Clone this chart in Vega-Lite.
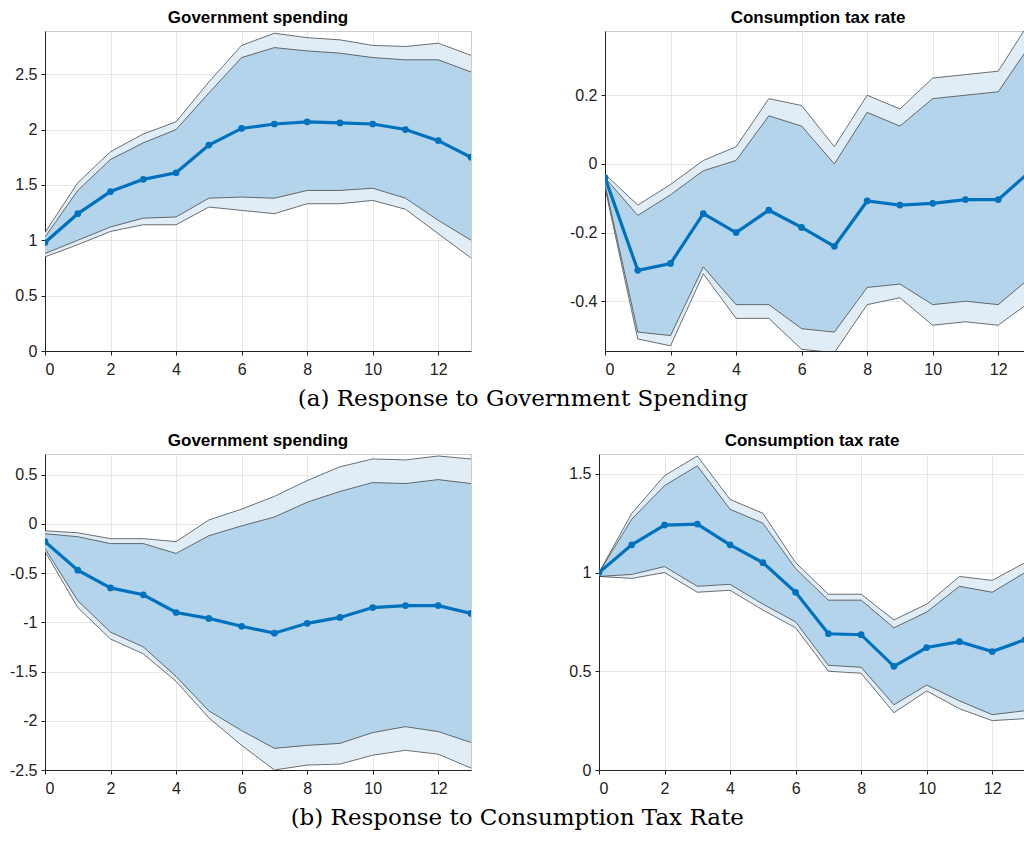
{
  "$schema": "https://vega.github.io/schema/vega-lite/v6.json",
  "padding": {"left": 8, "top": 8, "right": 0, "bottom": 0},
  "background": "white",
  "datasets": {
    "irf": [
      {"panel": "a1", "h": 0, "mean": 0.98, "lo68": 0.88, "hi68": 1.03, "lo90": 0.85, "hi90": 1.07},
      {"panel": "a1", "h": 1, "mean": 1.24, "lo68": 1.0, "hi68": 1.45, "lo90": 0.96, "hi90": 1.52},
      {"panel": "a1", "h": 2, "mean": 1.44, "lo68": 1.12, "hi68": 1.73, "lo90": 1.08, "hi90": 1.8},
      {"panel": "a1", "h": 3, "mean": 1.55, "lo68": 1.2, "hi68": 1.88, "lo90": 1.14, "hi90": 1.96},
      {"panel": "a1", "h": 4, "mean": 1.61, "lo68": 1.21, "hi68": 2.0, "lo90": 1.14, "hi90": 2.07},
      {"panel": "a1", "h": 5, "mean": 1.86, "lo68": 1.38, "hi68": 2.33, "lo90": 1.3, "hi90": 2.43},
      {"panel": "a1", "h": 6, "mean": 2.01, "lo68": 1.39, "hi68": 2.65, "lo90": 1.27, "hi90": 2.76},
      {"panel": "a1", "h": 7, "mean": 2.05, "lo68": 1.38, "hi68": 2.74, "lo90": 1.24, "hi90": 2.87},
      {"panel": "a1", "h": 8, "mean": 2.07, "lo68": 1.45, "hi68": 2.71, "lo90": 1.33, "hi90": 2.83},
      {"panel": "a1", "h": 9, "mean": 2.06, "lo68": 1.45, "hi68": 2.69, "lo90": 1.33, "hi90": 2.81},
      {"panel": "a1", "h": 10, "mean": 2.05, "lo68": 1.47, "hi68": 2.65, "lo90": 1.36, "hi90": 2.76},
      {"panel": "a1", "h": 11, "mean": 2.0, "lo68": 1.38, "hi68": 2.63, "lo90": 1.28, "hi90": 2.75},
      {"panel": "a1", "h": 12, "mean": 1.9, "lo68": 1.18, "hi68": 2.63, "lo90": 1.06, "hi90": 2.78},
      {"panel": "a1", "h": 13, "mean": 1.75, "lo68": 1.0, "hi68": 2.52, "lo90": 0.84, "hi90": 2.67},

      {"panel": "a2", "h": 0, "mean": -0.04, "lo68": -0.06, "hi68": -0.04, "lo90": -0.07, "hi90": -0.03},
      {"panel": "a2", "h": 1, "mean": -0.31, "lo68": -0.49, "hi68": -0.15, "lo90": -0.51, "hi90": -0.12},
      {"panel": "a2", "h": 2, "mean": -0.29, "lo68": -0.5, "hi68": -0.09, "lo90": -0.53, "hi90": -0.06},
      {"panel": "a2", "h": 3, "mean": -0.145, "lo68": -0.3, "hi68": -0.02, "lo90": -0.32, "hi90": 0.01},
      {"panel": "a2", "h": 4, "mean": -0.2, "lo68": -0.41, "hi68": 0.01, "lo90": -0.45, "hi90": 0.05},
      {"panel": "a2", "h": 5, "mean": -0.135, "lo68": -0.41, "hi68": 0.14, "lo90": -0.45, "hi90": 0.19},
      {"panel": "a2", "h": 6, "mean": -0.185, "lo68": -0.48, "hi68": 0.11, "lo90": -0.54, "hi90": 0.17},
      {"panel": "a2", "h": 7, "mean": -0.24, "lo68": -0.49, "hi68": 0.0, "lo90": -0.55, "hi90": 0.05},
      {"panel": "a2", "h": 8, "mean": -0.108, "lo68": -0.36, "hi68": 0.15, "lo90": -0.41, "hi90": 0.2},
      {"panel": "a2", "h": 9, "mean": -0.12, "lo68": -0.35, "hi68": 0.11, "lo90": -0.39, "hi90": 0.16},
      {"panel": "a2", "h": 10, "mean": -0.115, "lo68": -0.41, "hi68": 0.19, "lo90": -0.47, "hi90": 0.25},
      {"panel": "a2", "h": 11, "mean": -0.104, "lo68": -0.4, "hi68": 0.2, "lo90": -0.46, "hi90": 0.26},
      {"panel": "a2", "h": 12, "mean": -0.104, "lo68": -0.41, "hi68": 0.21, "lo90": -0.47, "hi90": 0.27},
      {"panel": "a2", "h": 13, "mean": -0.02, "lo68": -0.33, "hi68": 0.35, "lo90": -0.4, "hi90": 0.42},

      {"panel": "b1", "h": 0, "mean": -0.18, "lo68": -0.25, "hi68": -0.1, "lo90": -0.28, "hi90": -0.07},
      {"panel": "b1", "h": 1, "mean": -0.47, "lo68": -0.78, "hi68": -0.13, "lo90": -0.85, "hi90": -0.09},
      {"panel": "b1", "h": 2, "mean": -0.65, "lo68": -1.1, "hi68": -0.2, "lo90": -1.17, "hi90": -0.15},
      {"panel": "b1", "h": 3, "mean": -0.72, "lo68": -1.25, "hi68": -0.2, "lo90": -1.32, "hi90": -0.15},
      {"panel": "b1", "h": 4, "mean": -0.9, "lo68": -1.55, "hi68": -0.3, "lo90": -1.6, "hi90": -0.18},
      {"panel": "b1", "h": 5, "mean": -0.96, "lo68": -1.9, "hi68": -0.12, "lo90": -1.97, "hi90": 0.04},
      {"panel": "b1", "h": 6, "mean": -1.04, "lo68": -2.1, "hi68": -0.02, "lo90": -2.25, "hi90": 0.15},
      {"panel": "b1", "h": 7, "mean": -1.11, "lo68": -2.28, "hi68": 0.07, "lo90": -2.5, "hi90": 0.28},
      {"panel": "b1", "h": 8, "mean": -1.01, "lo68": -2.25, "hi68": 0.22, "lo90": -2.45, "hi90": 0.44},
      {"panel": "b1", "h": 9, "mean": -0.95, "lo68": -2.23, "hi68": 0.33, "lo90": -2.44, "hi90": 0.58},
      {"panel": "b1", "h": 10, "mean": -0.85, "lo68": -2.12, "hi68": 0.42, "lo90": -2.35, "hi90": 0.66},
      {"panel": "b1", "h": 11, "mean": -0.83, "lo68": -2.06, "hi68": 0.41, "lo90": -2.3, "hi90": 0.65},
      {"panel": "b1", "h": 12, "mean": -0.83, "lo68": -2.11, "hi68": 0.45, "lo90": -2.34, "hi90": 0.69},
      {"panel": "b1", "h": 13, "mean": -0.91, "lo68": -2.22, "hi68": 0.41, "lo90": -2.48, "hi90": 0.66},

      {"panel": "b2", "h": 0, "mean": 1.0, "lo68": 0.98, "hi68": 1.0, "lo90": 0.98, "hi90": 1.0},
      {"panel": "b2", "h": 1, "mean": 1.14, "lo68": 0.99, "hi68": 1.27, "lo90": 0.97, "hi90": 1.3},
      {"panel": "b2", "h": 2, "mean": 1.24, "lo68": 1.03, "hi68": 1.44, "lo90": 1.0, "hi90": 1.49},
      {"panel": "b2", "h": 3, "mean": 1.245, "lo68": 0.93, "hi68": 1.54, "lo90": 0.9, "hi90": 1.59},
      {"panel": "b2", "h": 4, "mean": 1.14, "lo68": 0.94, "hi68": 1.32, "lo90": 0.91, "hi90": 1.37},
      {"panel": "b2", "h": 5, "mean": 1.05, "lo68": 0.84, "hi68": 1.25, "lo90": 0.81, "hi90": 1.3},
      {"panel": "b2", "h": 6, "mean": 0.9, "lo68": 0.75, "hi68": 1.02, "lo90": 0.72, "hi90": 1.05},
      {"panel": "b2", "h": 7, "mean": 0.69, "lo68": 0.53, "hi68": 0.86, "lo90": 0.5, "hi90": 0.89},
      {"panel": "b2", "h": 8, "mean": 0.685, "lo68": 0.52, "hi68": 0.86, "lo90": 0.49, "hi90": 0.89},
      {"panel": "b2", "h": 9, "mean": 0.525, "lo68": 0.33, "hi68": 0.72, "lo90": 0.29, "hi90": 0.76},
      {"panel": "b2", "h": 10, "mean": 0.62, "lo68": 0.43, "hi68": 0.8, "lo90": 0.4, "hi90": 0.84},
      {"panel": "b2", "h": 11, "mean": 0.65, "lo68": 0.35, "hi68": 0.93, "lo90": 0.31, "hi90": 0.98},
      {"panel": "b2", "h": 12, "mean": 0.6, "lo68": 0.28, "hi68": 0.9, "lo90": 0.25, "hi90": 0.96},
      {"panel": "b2", "h": 13, "mean": 0.66, "lo68": 0.3, "hi68": 1.0, "lo90": 0.26, "hi90": 1.05}
    ]
  },
  "vconcat": [
    {
      "title": {"text": "(a) Response to Government Spending", "orient": "bottom", "anchor": "middle", "font": "DejaVu Serif", "fontSize": 23, "fontWeight": "normal", "offset": 10},
      "hconcat": [
        {
          "title": "Government spending",
          "width": 426, "height": 320,
          "data": {"name": "irf"},
          "transform": [{"filter": "datum.panel === 'a1'"}],
          "encoding": {
            "x": {"field": "h", "type": "quantitative", "scale": {"domain": [0, 13], "nice": false}, "axis": {"values": [0, 2, 4, 6, 8, 10, 12]}, "title": null}
          },
          "layer": [
            {"mark": {"type": "area", "color": "#e1edf6", "opacity": 1, "clip": true}, "encoding": {"y": {"field": "lo90", "type": "quantitative", "scale": {"domain": [0, 2.89], "nice": false}, "axis": {"values": [0, 0.5, 1, 1.5, 2, 2.5]}, "title": null}, "y2": {"field": "hi90"}}},
            {"mark": {"type": "area", "color": "#b3d4ea", "opacity": 1, "clip": true}, "encoding": {"y": {"field": "lo68", "type": "quantitative"}, "y2": {"field": "hi68"}}},
            {"transform": [{"fold": ["lo90", "hi90", "lo68", "hi68"], "as": ["band", "val"]}], "mark": {"type": "line", "color": "#333", "strokeWidth": 0.7, "clip": true}, "encoding": {"y": {"field": "val", "type": "quantitative"}, "detail": {"field": "band"}}},
            {"mark": {"type": "rule", "color": "black", "strokeWidth": 3.5, "clip": true}, "encoding": {"y": {"datum": 0}}},
            {"mark": {"type": "line", "color": "#0072bd", "strokeWidth": 3.2, "point": {"filled": true, "size": 45, "color": "#0072bd"}, "clip": true}, "encoding": {"y": {"field": "mean", "type": "quantitative"}}}
          ]
        },
        {
          "title": "Consumption tax rate",
          "width": 426, "height": 320,
          "data": {"name": "irf"},
          "transform": [{"filter": "datum.panel === 'a2'"}],
          "encoding": {
            "x": {"field": "h", "type": "quantitative", "scale": {"domain": [0, 13], "nice": false}, "axis": {"values": [0, 2, 4, 6, 8, 10, 12]}, "title": null}
          },
          "layer": [
            {"mark": {"type": "area", "color": "#e1edf6", "opacity": 1, "clip": true}, "encoding": {"y": {"field": "lo90", "type": "quantitative", "scale": {"domain": [-0.545, 0.387], "nice": false}, "axis": {"values": [-0.4, -0.2, 0, 0.2]}, "title": null}, "y2": {"field": "hi90"}}},
            {"mark": {"type": "area", "color": "#b3d4ea", "opacity": 1, "clip": true}, "encoding": {"y": {"field": "lo68", "type": "quantitative"}, "y2": {"field": "hi68"}}},
            {"transform": [{"fold": ["lo90", "hi90", "lo68", "hi68"], "as": ["band", "val"]}], "mark": {"type": "line", "color": "#333", "strokeWidth": 0.7, "clip": true}, "encoding": {"y": {"field": "val", "type": "quantitative"}, "detail": {"field": "band"}}},
            {"mark": {"type": "rule", "color": "black", "strokeWidth": 3.5, "clip": true}, "encoding": {"y": {"datum": 0}}},
            {"mark": {"type": "line", "color": "#0072bd", "strokeWidth": 3.2, "point": {"filled": true, "size": 45, "color": "#0072bd"}, "clip": true}, "encoding": {"y": {"field": "mean", "type": "quantitative"}}}
          ]
        }
      ],
      "spacing": 96
    },
    {
      "title": {"text": "(b) Response to Consumption Tax Rate", "orient": "bottom", "anchor": "middle", "font": "DejaVu Serif", "fontSize": 23, "fontWeight": "normal", "offset": 10},
      "hconcat": [
        {
          "title": "Government spending",
          "width": 426, "height": 316,
          "data": {"name": "irf"},
          "transform": [{"filter": "datum.panel === 'b1'"}],
          "encoding": {
            "x": {"field": "h", "type": "quantitative", "scale": {"domain": [0, 13], "nice": false}, "axis": {"values": [0, 2, 4, 6, 8, 10, 12]}, "title": null}
          },
          "layer": [
            {"mark": {"type": "area", "color": "#e1edf6", "opacity": 1, "clip": true}, "encoding": {"y": {"field": "lo90", "type": "quantitative", "scale": {"domain": [-2.5, 0.71], "nice": false}, "axis": {"values": [-2.5, -2, -1.5, -1, -0.5, 0, 0.5]}, "title": null}, "y2": {"field": "hi90"}}},
            {"mark": {"type": "area", "color": "#b3d4ea", "opacity": 1, "clip": true}, "encoding": {"y": {"field": "lo68", "type": "quantitative"}, "y2": {"field": "hi68"}}},
            {"transform": [{"fold": ["lo90", "hi90", "lo68", "hi68"], "as": ["band", "val"]}], "mark": {"type": "line", "color": "#333", "strokeWidth": 0.7, "clip": true}, "encoding": {"y": {"field": "val", "type": "quantitative"}, "detail": {"field": "band"}}},
            {"mark": {"type": "rule", "color": "black", "strokeWidth": 3, "clip": true}, "encoding": {"y": {"datum": 0}}},
            {"mark": {"type": "line", "color": "#0072bd", "strokeWidth": 3.2, "point": {"filled": true, "size": 45, "color": "#0072bd"}, "clip": true}, "encoding": {"y": {"field": "mean", "type": "quantitative"}}}
          ]
        },
        {
          "title": "Consumption tax rate",
          "width": 426, "height": 316,
          "data": {"name": "irf"},
          "transform": [{"filter": "datum.panel === 'b2'"}],
          "encoding": {
            "x": {"field": "h", "type": "quantitative", "scale": {"domain": [0, 13], "nice": false}, "axis": {"values": [0, 2, 4, 6, 8, 10, 12]}, "title": null}
          },
          "layer": [
            {"mark": {"type": "area", "color": "#e1edf6", "opacity": 1, "clip": true}, "encoding": {"y": {"field": "lo90", "type": "quantitative", "scale": {"domain": [0, 1.6], "nice": false}, "axis": {"values": [0, 0.5, 1, 1.5]}, "title": null}, "y2": {"field": "hi90"}}},
            {"mark": {"type": "area", "color": "#b3d4ea", "opacity": 1, "clip": true}, "encoding": {"y": {"field": "lo68", "type": "quantitative"}, "y2": {"field": "hi68"}}},
            {"transform": [{"fold": ["lo90", "hi90", "lo68", "hi68"], "as": ["band", "val"]}], "mark": {"type": "line", "color": "#333", "strokeWidth": 0.7, "clip": true}, "encoding": {"y": {"field": "val", "type": "quantitative"}, "detail": {"field": "band"}}},
            {"mark": {"type": "rule", "color": "black", "strokeWidth": 3.5, "clip": true}, "encoding": {"y": {"datum": 0}}},
            {"mark": {"type": "line", "color": "#0072bd", "strokeWidth": 3.2, "point": {"filled": true, "size": 45, "color": "#0072bd"}, "clip": true}, "encoding": {"y": {"field": "mean", "type": "quantitative"}}}
          ]
        }
      ],
      "spacing": 96
    }
  ],
  "spacing": 20,
  "config": {
    "font": "Liberation Sans",
    "title": {"font": "Liberation Sans", "fontSize": 17, "fontWeight": "bold", "color": "black", "offset": 4},
    "axis": {"labelFont": "Liberation Sans", "labelFontSize": 16, "labelColor": "#222", "domainColor": "#222", "tickColor": "#222", "gridColor": "#e6e6e6", "gridWidth": 1, "labelPadding": 4, "tickSize": 4, "labelExpr": "datum.value + ''"},
    "axisX": {"labelPadding": 6},
    "view": {"stroke": "#cccccc"}
  }
}
